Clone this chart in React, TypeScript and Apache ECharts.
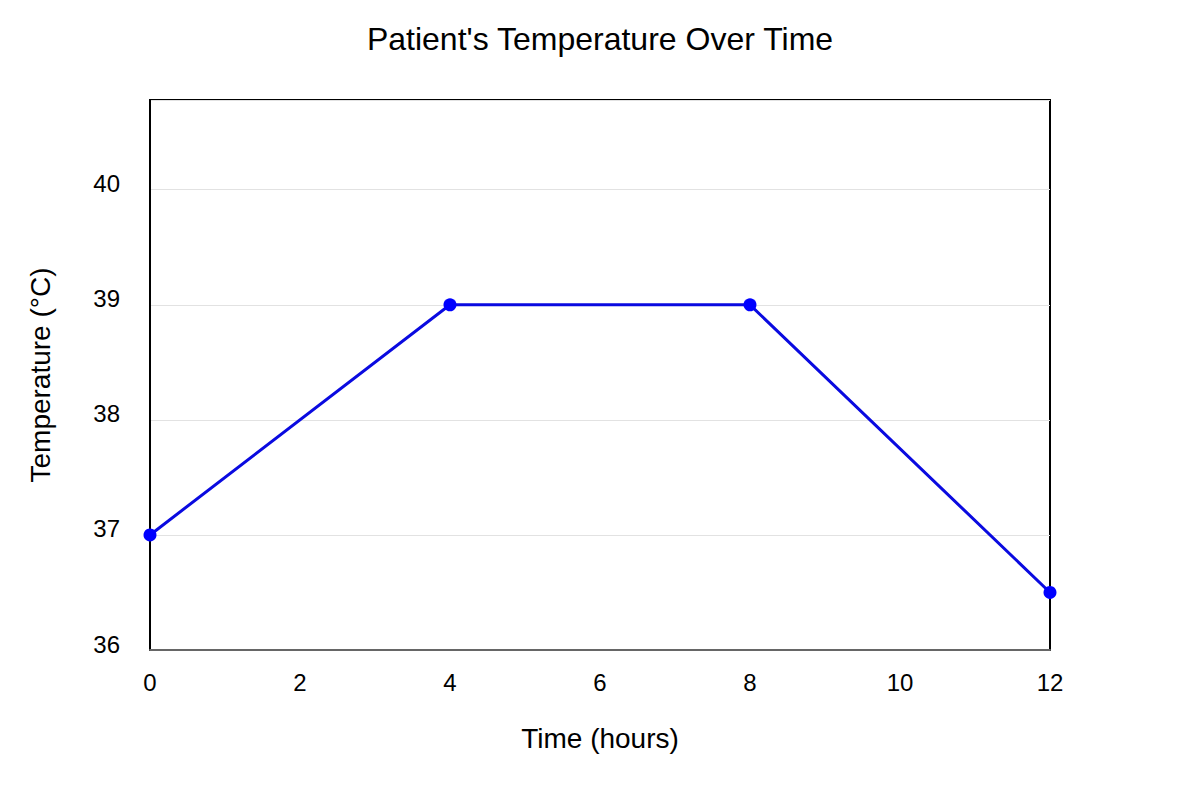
import { useEffect, useRef } from "react";
import * as echarts from "echarts";

const hours = [0, 4, 8, 12];
const temperatures = [37, 39, 39, 36.5];
const xTicks = [0, 2, 4, 6, 8, 10, 12];
const yTicks = [36, 37, 38, 39, 40];

const FONT = "'Liberation Sans', Arial, sans-serif";

export default function App() {
  const chartRef = useRef<HTMLDivElement | null>(null);

  useEffect(() => {
    if (!chartRef.current) return;
    const chart = echarts.init(chartRef.current, null, { renderer: "svg" });

    chart.setOption({
      animation: false,
      textStyle: { fontFamily: FONT },
      title: {
        text: "Patient's Temperature Over Time",
        left: "center",
        top: 18,
        textStyle: { fontSize: 32, fontWeight: "normal", color: "#000", fontFamily: FONT },
      },
      grid: {
        left: 150,
        right: 150,
        top: 100,
        bottom: 150,
        show: true,
        borderColor: "#000",
        borderWidth: 2,
      },
      xAxis: {
        type: "value",
        min: xTicks[0],
        max: xTicks[xTicks.length - 1],
        interval: 2,
        name: "Time (hours)",
        nameLocation: "middle",
        nameGap: 74,
        nameTextStyle: { fontSize: 28, color: "#000", fontFamily: FONT },
        axisLine: { show: true, lineStyle: { color: "#666", width: 2 } },
        axisTick: { show: false },
        splitLine: { show: false },
        axisLabel: { fontSize: 24, color: "#000", margin: 20, fontFamily: FONT },
      },
      yAxis: {
        type: "value",
        min: yTicks[0],
        max: 40.78,
        interval: 1,
        name: "Temperature (°C)",
        nameLocation: "middle",
        nameGap: 96,
        nameTextStyle: { fontSize: 28, color: "#000", fontFamily: FONT },
        axisLine: { show: true, lineStyle: { color: "#000", width: 2 } },
        axisTick: { show: false },
        splitLine: { show: true, lineStyle: { color: "#e2e2e2", width: 1 } },
        axisLabel: {
          fontSize: 24,
          color: "#000",
          margin: 30,
          verticalAlign: "bottom",
          lineHeight: 12,
          fontFamily: FONT,
          showMaxLabel: false,
          formatter: (v: number) => (yTicks.includes(v) ? String(v) : ""),
        },
      },
      series: [
        {
          type: "line",
          data: hours.map((h, i) => [h, temperatures[i]]),
          symbol: "circle",
          symbolSize: 13,
          lineStyle: { color: "#0a0ae0", width: 3 },
          itemStyle: { color: "#0000ff" },
          clip: false,
        },
      ],
    });

    return () => chart.dispose();
  }, []);

  return (
    <div
      ref={chartRef}
      style={{ position: "fixed", left: 0, top: 0, width: 1200, height: 800, background: "#fff" }}
    />
  );
}
